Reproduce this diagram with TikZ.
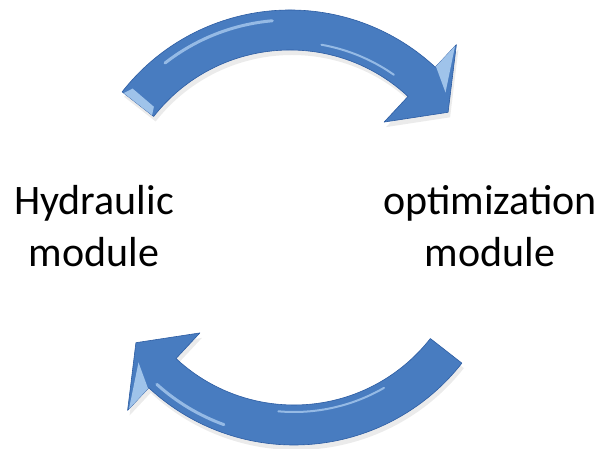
\documentclass[tikz,border=0pt]{standalone}
\usepackage{fontspec}
\setmainfont{Carlito}
\definecolor{arrowblue}{RGB}{72,124,192}
\definecolor{arrowdark}{RGB}{44,92,162}
\definecolor{arrowlight}{RGB}{175,208,242}
\tikzset{
  modlabel/.style={align=center, inner sep=0pt, font=\fontsize{42}{52}\selectfont},
  arrowbody/.style={fill=arrowblue, draw=arrowdark, line width=0.6pt, line join=round,
    preaction={fill=black, opacity=0.08, transform canvas={shift={(2,-5)}}}},
  glint/.style={draw=arrowlight, line cap=round, opacity=0.75},
  facet/.style={fill=arrowlight, opacity=0.85}
}
\begin{document}
\begin{tikzpicture}[x=1pt,y=1pt]
  \useasboundingbox (0,0) rectangle (607,449);

  \node[modlabel, anchor=base] (hyd) at (94,182) {Hydraulic\\module};
  \node[modlabel, anchor=base] (opt) at (490,182) {optimization\\module};

  % upper arrow, hydraulic -> optimization
  \begin{scope}[shift={(290,226)}]
    \filldraw[arrowbody] (142:213) arc[start angle=142, end angle=47, radius=213]
      -- (47:244) -- (35:193) -- (47:138) -- (47:173)
      arc[start angle=47, end angle=142, radius=173] -- cycle;
    \draw[glint, line width=3pt] (128:203) arc[start angle=128, end angle=95, radius=203];
    \draw[glint, line width=2pt] (80:181) arc[start angle=80, end angle=55, radius=181];
    \fill[facet] (142:211) -- (142:175) -- (139.5:179) -- (139.5:207) -- cycle;
    \fill[facet] (47:242) -- (47:214) -- (40:203) -- cycle;
  \end{scope}

  % lower arrow, optimization -> hydraulic
  \begin{scope}[shift={(294,217)}]
    \filldraw[arrowbody] (322:213) arc[start angle=322, end angle=227, radius=213]
      -- (227:244) -- (215:193) -- (227:138) -- (227:173)
      arc[start angle=227, end angle=322, radius=173] -- cycle;
    \draw[glint, line width=3pt] (250:205) arc[start angle=250, end angle=228, radius=205];
    \draw[glint, line width=2pt] (300:180) arc[start angle=300, end angle=265, radius=180];
    \fill[facet] (227:242) -- (227:214) -- (220:203) -- cycle;
  \end{scope}
\end{tikzpicture}
\end{document}
